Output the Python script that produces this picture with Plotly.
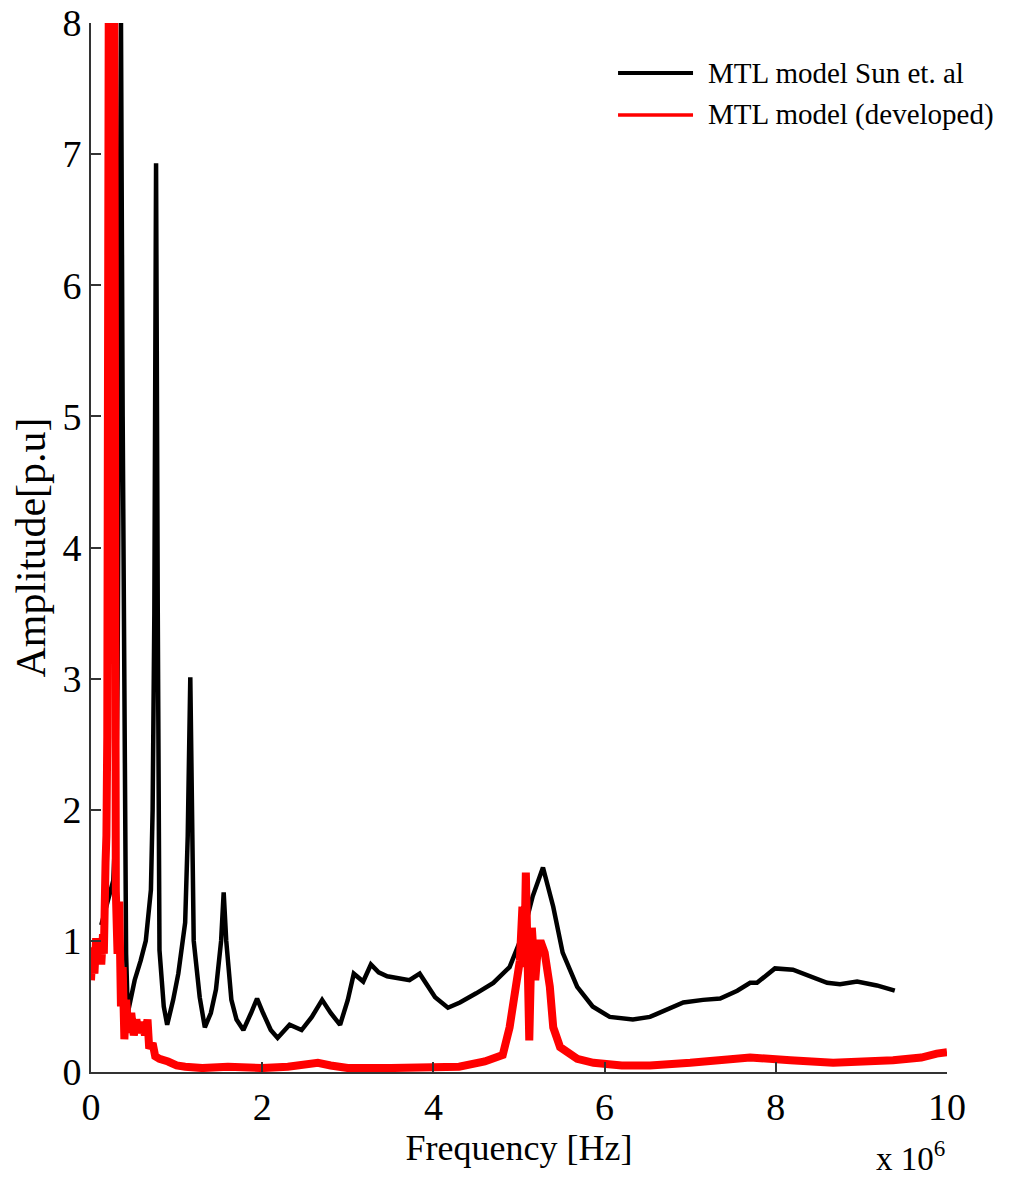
import plotly.graph_objects as go

# Frequency axis values are in units of 1e6 Hz
sun_freq = [0.12, 0.20, 0.26, 0.29, 0.31, 0.33, 0.35, 0.37, 0.39, 0.41, 0.43,
            0.51, 0.58, 0.64, 0.70, 0.72, 0.74, 0.76, 0.78, 0.79, 0.80, 0.85, 0.89,
            0.96, 1.02, 1.10, 1.13, 1.16, 1.18, 1.20, 1.27, 1.33,
            1.40, 1.46, 1.52, 1.55, 1.58, 1.64, 1.70, 1.78,
            1.87, 1.94, 2.01, 2.10, 2.18, 2.32, 2.46, 2.58, 2.70, 2.80, 2.91,
            3.00, 3.07, 3.18, 3.27, 3.36, 3.46, 3.63, 3.72, 3.84, 4.02, 4.17,
            4.31, 4.50, 4.70, 4.89, 5.05, 5.16, 5.28, 5.40, 5.51, 5.68, 5.86,
            6.06, 6.33, 6.53, 6.70, 6.92, 7.15, 7.35, 7.55, 7.70, 7.78, 7.99,
            8.20, 8.40, 8.60, 8.75, 8.95, 9.18, 9.39]
sun_amp = [1.12, 1.30, 1.46, 1.90, 3.00, 5.50, 8.05, 5.00, 2.00, 0.90, 0.45,
           0.70, 0.85, 1.00, 1.39, 2.00, 3.50, 6.93, 3.50, 2.00, 0.93, 0.50, 0.36,
           0.55, 0.75, 1.14, 1.80, 3.01, 1.80, 1.00, 0.57, 0.34,
           0.45, 0.63, 1.00, 1.37, 1.00, 0.55, 0.40, 0.32,
           0.45, 0.56, 0.45, 0.32, 0.26, 0.36, 0.32, 0.42, 0.55, 0.45, 0.36,
           0.55, 0.75, 0.69, 0.82, 0.76, 0.73, 0.71, 0.70, 0.75, 0.57, 0.49,
           0.53, 0.60, 0.68, 0.80, 1.06, 1.34, 1.56, 1.26, 0.91, 0.65, 0.50,
           0.42, 0.40, 0.42, 0.47, 0.53, 0.55, 0.56, 0.62, 0.68, 0.68, 0.79,
           0.78, 0.73, 0.68, 0.67, 0.69, 0.66, 0.62]

dev_freq = [0.00, 0.02, 0.04, 0.06, 0.08, 0.10, 0.12, 0.14, 0.15, 0.17, 0.18,
            0.19, 0.20, 0.21, 0.27, 0.28, 0.29, 0.31, 0.33, 0.35, 0.37, 0.39,
            0.41, 0.44, 0.47, 0.50, 0.53, 0.56, 0.60, 0.63, 0.66, 0.68, 0.72,
            0.75, 0.80, 0.90, 1.00, 1.10, 1.30, 1.60, 2.00, 2.30, 2.50, 2.65,
            2.80, 3.00, 3.50, 4.00, 4.30, 4.60, 4.81, 4.89, 4.95, 5.01, 5.04,
            5.06, 5.08, 5.10, 5.12, 5.15, 5.19, 5.22, 5.25, 5.30, 5.36, 5.40,
            5.48, 5.68, 5.87, 6.20, 6.53, 7.00, 7.40, 7.70, 8.17, 8.67, 9.37,
            9.70, 9.88, 10.00]
dev_amp = [0.70, 0.95, 0.75, 1.02, 0.85, 1.00, 0.82, 1.05, 0.90, 1.60, 1.80,
           2.55, 5.60, 9.00, 9.00, 1.40, 1.38, 0.90, 1.30, 0.50, 0.80, 0.25,
           0.55, 0.30, 0.45, 0.28, 0.40, 0.30, 0.38, 0.28, 0.40, 0.18, 0.22,
           0.12, 0.10, 0.08, 0.05, 0.04, 0.03, 0.04, 0.03, 0.04, 0.06, 0.07,
           0.05, 0.03, 0.03, 0.03, 0.04, 0.08, 0.13, 0.34, 0.65, 0.85, 1.26,
           0.80, 1.52, 1.00, 0.24, 1.10, 0.70, 0.95, 1.00, 0.91, 0.65, 0.34,
           0.19, 0.10, 0.07, 0.05, 0.05, 0.07, 0.09, 0.11, 0.09, 0.07, 0.09,
           0.11, 0.14, 0.15]

x_ticks = [0, 2, 4, 6, 8, 10]
y_ticks = [0, 1, 2, 3, 4, 5, 6, 7, 8]

series_names = ["MTL model Sun et. al", "MTL model (developed)"]
series_colors = ["#000000", "#ff0000"]

SERIF = "Liberation Serif, Times New Roman, serif"

fig = go.Figure()
fig.add_trace(go.Scatter(x=sun_freq, y=sun_amp, mode="lines", name=series_names[0],
                         line=dict(color=series_colors[0], width=4.5), showlegend=False))
fig.add_trace(go.Scatter(x=dev_freq, y=dev_amp, mode="lines", name=series_names[1],
                         line=dict(color=series_colors[1], width=8), showlegend=False))

# Hand-built legend in the upper right corner
leg_y = [0.9523, 0.9123]
for name, color, yy, w in zip(series_names, series_colors, leg_y, [4, 3.5]):
    fig.add_shape(type="line", xref="paper", yref="paper",
                  x0=0.6157, x1=0.7033, y0=yy, y1=yy,
                  line=dict(color=color, width=w))
    fig.add_annotation(xref="paper", yref="paper", x=0.7185, y=yy, text=name,
                       showarrow=False, xanchor="left", yanchor="middle",
                       font=dict(family=SERIF, size=29, color="#000000"))

# Exponent of the frequency axis
fig.add_annotation(xref="paper", yref="paper", x=1.0, y=-0.058,
                   text="x 10<sup>6</sup>", showarrow=False,
                   xanchor="right", yanchor="top",
                   font=dict(family=SERIF, size=33, color="#000000"))

fig.update_layout(
    width=1016, height=1178,
    margin=dict(l=91, r=69, t=23, b=106),
    paper_bgcolor="white", plot_bgcolor="white",
    font=dict(family=SERIF, color="#000000"),
    xaxis=dict(range=[0, 10], tickvals=x_ticks, ticktext=[str(v) for v in x_ticks],
               ticks="inside", ticklen=10, tickcolor="#333333", tickwidth=1.5,
               showline=True, linecolor="#333333", linewidth=2, mirror=False,
               showgrid=False, zeroline=False,
               tickfont=dict(family=SERIF, size=38),
               title=dict(text="Frequency [Hz]", font=dict(family=SERIF, size=36),
                          standoff=4),
               automargin=False),
    yaxis=dict(range=[0, 8], tickvals=y_ticks, ticktext=[str(v) for v in y_ticks],
               ticks="inside", ticklen=10, tickcolor="#333333", tickwidth=1.5,
               showline=True, linecolor="#333333", linewidth=2, mirror=False,
               showgrid=False, zeroline=False,
               tickfont=dict(family=SERIF, size=38),
               title=dict(text="Amplitude[p.u]", font=dict(family=SERIF, size=42),
                          standoff=4),
               automargin=False),
)

fig.write_html("out.html")
